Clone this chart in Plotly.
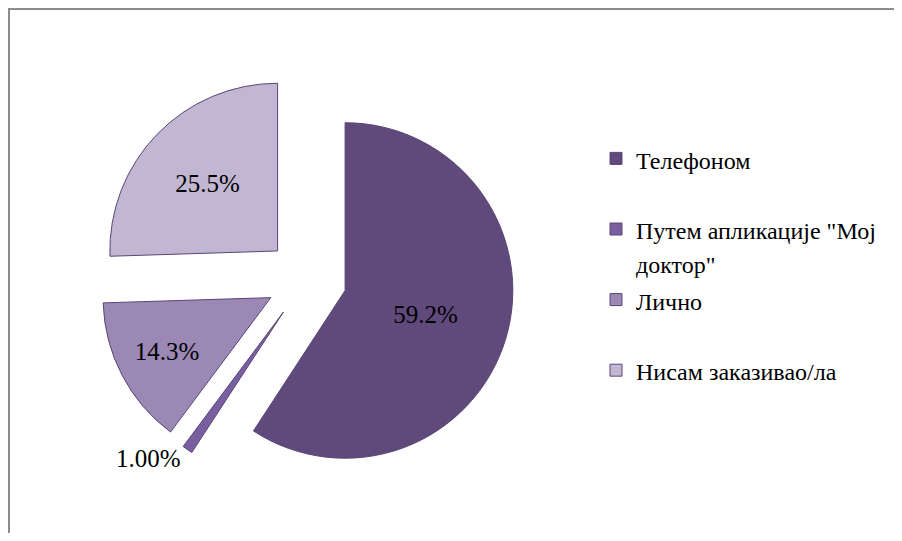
import plotly.graph_objects as go

# Начин заказивања прегледа
labels = [
    "Телефоном",
    "Путем апликације \"Мој<br>доктор\"",
    "Лично",
    "Нисам заказивао/ла",
]
values = [59.2, 1.0, 14.3, 25.5]
value_text = ["59.2%", "1.00%", "14.3%", "25.5%"]
colors = ["#604A7B", "#7A5FA0", "#9B88B5", "#C1B7D3"]
text_positions = ["inside", "outside", "inside", "inside"]

SERIF = "Times New Roman, Liberation Serif, serif"

# the page has an 8px body margin, so the figure is 16px smaller than the window
W, H = 886, 525


def legend_entry(label, n_lines):
    # pad entries to two lines so the legend spreads out like the original
    text = "<br>".join(f"<span style='font-size:24px'>{part}</span>" for part in label.split("<br>"))
    return text + "<br> " * (n_lines - label.count("<br>") - 1)


legend_labels = [
    legend_entry(labels[0], 2),
    legend_entry(labels[1], 2),
    legend_entry(labels[2], 2),
    legend_entry(labels[3], 1),
]

fig = go.Figure(go.Pie(
    labels=legend_labels,
    values=values,
    text=value_text,
    textinfo="text",
    textposition=text_positions,
    insidetextorientation="horizontal",
    sort=False,
    direction="clockwise",
    rotation=0,
    pull=[0.24] * 4,
    marker=dict(colors=colors, line=dict(color="#5A4676", width=1)),
    textfont=dict(family=SERIF, size=25, color="#000000"),
    domain=dict(x=[90.5 / W, 506.5 / W], y=[1 - 479 / H, 1 - 63 / H]),
    hoverinfo="percent",
))

# chart border (cut off on the right and bottom like the source)
fig.add_shape(
    type="rect", xref="paper", yref="paper",
    x0=1 / W, x1=1.05, y0=-0.05, y1=1 - 1 / H,
    line=dict(color="#8C8C8C", width=2),
    fillcolor="rgba(0,0,0,0)",
)

fig.update_layout(
    width=W,
    height=H,
    margin=dict(l=0, r=0, t=0, b=0, autoexpand=False),
    paper_bgcolor="white",
    plot_bgcolor="white",
    font=dict(family=SERIF, size=17, color="#000000"),
    showlegend=True,
    legend=dict(
        x=588 / W, y=1 - 127 / H,
        xanchor="left", yanchor="top",
        valign="top",
        font=dict(family=SERIF, size=26, color="#000000"),
        itemwidth=30,
        bgcolor="rgba(0,0,0,0)",
    ),
)

fig.write_html("out.html")
